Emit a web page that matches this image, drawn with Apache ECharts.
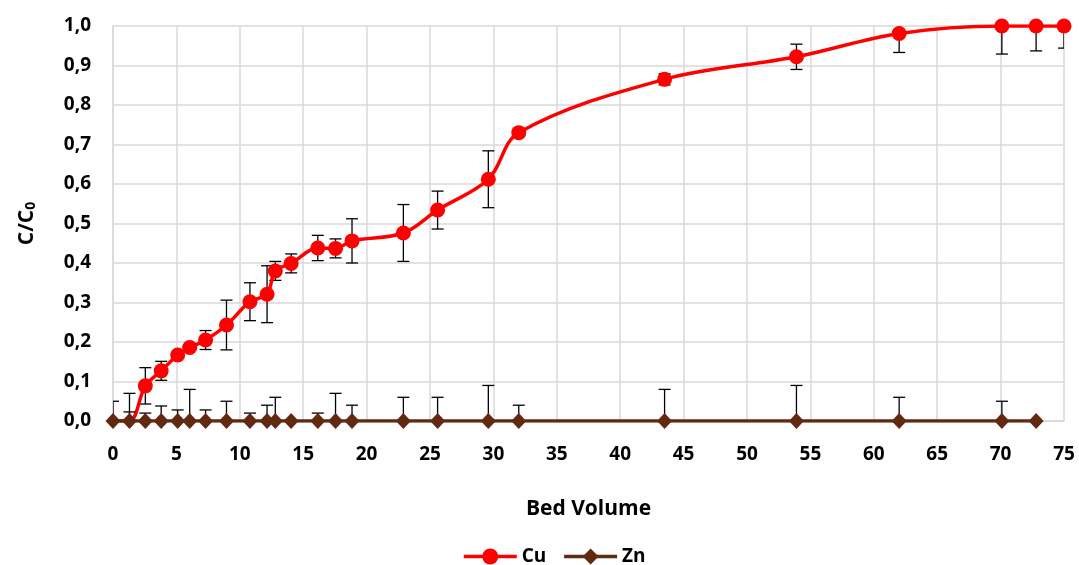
<!DOCTYPE html>
<html>
<head>
<meta charset="utf-8">
<script src="https://cdn.jsdelivr.net/npm/echarts@6/dist/echarts.min.js"></script>
<style>
html,body{margin:0;padding:0;background:#fff;}
#chart{width:1079px;height:565px;}
</style>
</head>
<body>
<div id="chart"></div>
<script>
// ---- data ----
const bedVolumeCu = [0, 1.3, 2.55, 3.8, 5.1, 6.05, 7.3, 8.95, 10.8, 12.15, 12.8, 14.05, 16.15, 17.55, 18.85, 22.9, 25.6, 29.6, 32.0, 43.5, 53.9, 62.0, 70.1, 72.8, 75.0];
const cuValues   = [0, 0, 0.089, 0.127, 0.167, 0.186, 0.205, 0.243, 0.302, 0.321, 0.380, 0.399, 0.438, 0.437, 0.456, 0.476, 0.534, 0.612, 0.730, 0.865, 0.922, 0.981, 1.0, 1.0, 1.0];
const cuErrors   = [0, 0.07, 0.046, 0.024, 0.006, 0.006, 0.024, 0.063, 0.048, 0.072, 0.024, 0.024, 0.032, 0.024, 0.056, 0.072, 0.048, 0.072, 0.01, 0.014, 0.032, 0.048, 0.071, 0.063, 0.056];

const bedVolumeZn = [0, 1.3, 2.55, 3.8, 5.1, 6.05, 7.3, 8.95, 10.8, 12.15, 12.8, 14.05, 16.15, 17.55, 18.85, 22.9, 25.6, 29.6, 32.0, 43.5, 53.9, 62.0, 70.1, 72.8];
const znValues   = [0, 0, 0, 0, 0, 0, 0, 0, 0, 0, 0, 0, 0, 0, 0, 0, 0, 0, 0, 0, 0, 0, 0, 0];
const znErrorsUp = [0.05, 0.023, 0.02, 0.038, 0.028, 0.08, 0.028, 0.05, 0.02, 0.04, 0.06, 0, 0.02, 0.07, 0.04, 0.06, 0.06, 0.09, 0.04, 0.08, 0.09, 0.06, 0.05, 0];

const xTicks = [0, 5, 10, 15, 20, 25, 30, 35, 40, 45, 50, 55, 60, 65, 70, 75];
const yTicks = ['0,0','0,1','0,2','0,3','0,4','0,5','0,6','0,7','0,8','0,9','1,0'];

// ---- build ----
const FONT = 'Open Sans';
const cuLine = bedVolumeCu.map((x, i) => cuValues[i] === 0
  ? { value: [x, cuValues[i]], symbol: 'none' }
  : { value: [x, cuValues[i]] });
const znLine = bedVolumeZn.map((x, i) => [x, znValues[i]]);
const cuErrData = bedVolumeCu.map((x, i) => [x, cuValues[i], cuErrors[i], cuErrors[i]]);
const znErrData = bedVolumeZn.map((x, i) => [x, znValues[i], 0, znErrorsUp[i]]);

function renderErr(params, api) {
  const x = api.value(0), y = api.value(1), lo = api.value(2), hi = api.value(3);
  if (!(lo > 0) && !(hi > 0)) return null;
  const top = api.coord([x, y + hi]);
  const bot = api.coord([x, y - lo]);
  const half = 6;
  const style = { stroke: '#000', lineWidth: 1.3 };
  const children = [{ type: 'line', shape: { x1: top[0], y1: top[1], x2: bot[0], y2: bot[1] }, style }];
  if (hi > 0) children.push({ type: 'line', shape: { x1: top[0] - half, y1: top[1], x2: top[0] + half, y2: top[1] }, style });
  if (lo > 0) children.push({ type: 'line', shape: { x1: bot[0] - half, y1: bot[1], x2: bot[0] + half, y2: bot[1] }, style });
  return { type: 'group', children };
}

const chart = echarts.init(document.getElementById('chart'), null, { renderer: 'canvas' });
chart.setOption({
  animation: false,
  backgroundColor: '#fff',
  textStyle: { fontFamily: FONT },
  grid: { left: 113, right: 15, top: 26, bottom: 144 },
  legend: {
    left: 457, top: 542,
    itemWidth: 53, itemHeight: 20, itemGap: 16,
    data: ['Cu', 'Zn'],
    lineStyle: { width: 3.5 },
    textStyle: { fontFamily: FONT, fontSize: 19, fontWeight: 'bold', color: '#000' }
  },
  xAxis: {
    type: 'value', min: 0, max: 75, interval: 5,
    name: 'Bed Volume', nameLocation: 'middle', nameGap: 78,
    nameTextStyle: { fontFamily: FONT, fontSize: 21, fontWeight: 'bold', color: '#000' },
    axisLine: { lineStyle: { color: '#d9d9d9', width: 1.5 } },
    axisTick: { show: false },
    axisLabel: { margin: 24, fontFamily: FONT, fontSize: 19, fontWeight: 'bold', color: '#000',
      formatter: v => String(xTicks[xTicks.indexOf(v)]) },
    splitLine: { lineStyle: { color: '#d9d9d9', width: 1.5 } }
  },
  yAxis: {
    type: 'value', min: 0, max: 1, interval: 0.1,
    name: '{a|C/C}{b|0}', nameLocation: 'middle', nameGap: 75, nameRotate: 90,
    nameTextStyle: {
      fontFamily: FONT, fontWeight: 'bold', color: '#000',
      rich: {
        a: { fontFamily: FONT, fontSize: 21, fontWeight: 'bold', color: '#000', lineHeight: 26, verticalAlign: 'bottom' },
        b: { fontFamily: FONT, fontSize: 14, fontWeight: 'bold', color: '#000', lineHeight: 12, verticalAlign: 'bottom' }
      }
    },
    axisLine: { show: true, lineStyle: { color: '#d9d9d9', width: 1.5 } },
    axisTick: { show: false },
    axisLabel: { margin: 22, fontFamily: FONT, fontSize: 19, fontWeight: 'bold', color: '#000',
      formatter: v => yTicks[Math.round(v * 10)] },
    splitLine: { lineStyle: { color: '#d9d9d9', width: 1.5 } }
  },
  series: [
    { name: 'CuErr', type: 'custom', renderItem: renderErr, data: cuErrData, clip: true, z: 1,
      encode: { x: 0, y: 1 }, silent: true },
    { name: 'Cu', type: 'line', data: cuLine, smooth: 0.35, z: 2,
      symbol: 'circle', symbolSize: 15,
      lineStyle: { color: '#ff0000', width: 3.5 },
      itemStyle: { color: '#ff0000', borderWidth: 0 } },
    { name: 'ZnErr', type: 'custom', renderItem: renderErr, data: znErrData, clip: true, z: 3,
      encode: { x: 0, y: 1 }, silent: true },
    { name: 'Zn', type: 'line', data: znLine, z: 4,
      symbol: 'diamond', symbolSize: [15, 16],
      lineStyle: { color: '#612a10', width: 3.5 },
      itemStyle: { color: '#612a10', borderWidth: 0 } }
  ]
});
</script>
</body>
</html>
